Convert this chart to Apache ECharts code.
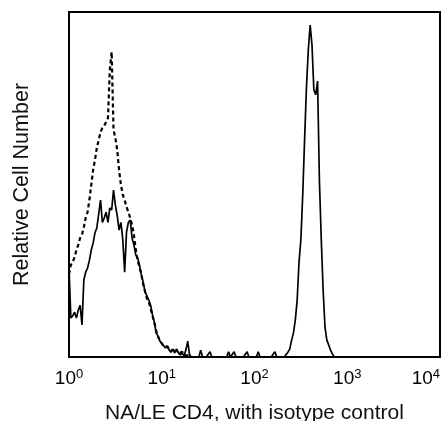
<!DOCTYPE html>
<html>
<head>
<meta charset="utf-8">
<script src="https://cdn.jsdelivr.net/npm/echarts@6/dist/echarts.min.js"></script>
<style>
html,body{margin:0;padding:0;background:#fff;overflow:hidden;}
#chart{width:444px;height:421px;}
</style>
</head>
<body>
<div id="chart"></div>
<script>
// Channel width in decades (x axis is log10 of fluorescence, 10^0 .. 10^4)
const STEP = 0.02;
const xTickExponents = ['0', '1', '2', '3', '4'];
const xAxisTitle = 'NA/LE CD4, with isotype control';
const yAxisTitle = 'Relative Cell Number';

// NA/LE CD4 stained cells (solid line), relative counts per channel
const cd4Counts = [
  25.8, 11.3, 11.9, 13, 11.3, 13.6, 15, 9.3, 22.3, 24.6,
  25.8, 28, 31, 33, 36, 37.4, 41.4, 45.5, 39, 40.3,
  42, 39, 43.2, 42.6, 48.4, 44, 41, 36.8, 39, 34,
  24.6, 36.2, 39, 39.7, 34.5, 32.5, 29.6, 28.7, 26.7, 23.8,
  21.7, 18.8, 17.7, 16.5, 15, 12.2, 10.1, 7, 6.1, 4.6,
  4, 3.5, 2.6, 3.2, 2, 1.4, 2.3, 1.4, 2, 1.2,
  0.6, 1.2, 0.3, 2, 4.6, 0.6, 0, 0, 0, 0,
  0, 2, 0, 0, 0, 0, 1.5, 0, 0, 0,
  0, 0, 0, 0, 0, 0, 1.5, 0, 0, 1.5,
  0, 0, 0, 0, 0, 0, 1.5, 0, 0, 0,
  0, 0, 1.5, 0, 0, 0, 0, 0, 0, 0,
  0, 1.5, 0, 0, 0, 0, 0, 0, 1.4, 2.3,
  4.9, 7, 10.7, 16.5, 27.5, 34, 47, 63, 78, 89,
  96.2, 90.4, 77.4, 76, 80, 51, 34, 19.4, 8.7, 4.9,
  3.5, 2, 0.9, 0, 0, 0, 0, 0, 0, 0,
  0, 0, 0, 0, 0, 0, 0, 0, 0, 0,
  0, 0, 0, 0, 0, 0, 0, 0, 0, 0,
  0, 0, 0, 0, 0, 0, 0, 0, 0, 0,
  0, 0, 0, 0, 0, 0, 0, 0, 0, 0,
  0, 0, 0, 0, 0, 0, 0, 0, 0, 0,
  0
];

// Isotype control (dashed line), relative counts per channel
const isotypeCounts = [
  24, 26.7, 27.5, 29, 31, 32.5, 34.5, 35.4, 37.7, 40.3,
  42, 45.5, 49.9, 54.2, 57.1, 60.6, 62.9, 65.2, 66.4, 67,
  67.5, 69.3, 83.2, 88.4, 65.8, 63.5, 60, 54.2, 49.9, 47,
  45.5, 43.5, 42, 40.3, 38.3, 35.4, 31, 28, 26, 24,
  21, 19, 17, 16, 14, 12, 10, 7.5, 6, 4.6,
  4, 3, 2.5, 3, 2.5, 1.5, 2.6, 1.2, 2.3, 1,
  0.5, 1.5, 0.5, 1, 0.5, 0
];

function toPairs(arr) {
  return arr.map((v, i) => [Math.round(i * STEP * 100) / 100, v]);
}

const FONT = "'Liberation Sans', Arial, Helvetica, sans-serif";
const chart = echarts.init(document.getElementById('chart'), null, {renderer: 'canvas'});
chart.setOption({
  animation: false,
  backgroundColor: '#fff',
  grid: {
    left: 69, right: 4, top: 12, bottom: 64,
    outerBoundsMode: 'none', containLabel: false,
    show: true, borderColor: '#000', borderWidth: 2, backgroundColor: 'transparent'
  },
  xAxis: {
    type: 'value', min: 0, max: 4, interval: 1,
    axisLine: {show: false}, axisTick: {show: false}, splitLine: {show: false},
    axisLabel: {
      margin: 11,
      alignMaxLabel: 'right',
      formatter: v => '{b|10}{s|' + xTickExponents[Math.round(v)] + '}',
      rich: {
        b: {fontSize: 19, fontFamily: FONT, color: '#000'},
        s: {fontSize: 13, fontFamily: FONT, color: '#000', padding: [0, 0, 9, 0]}
      }
    },
    name: xAxisTitle, nameLocation: 'middle', nameGap: 46,
    nameTextStyle: {fontSize: 21, fontFamily: FONT, color: '#111'}
  },
  yAxis: {
    type: 'value', min: 0, max: 100,
    axisLine: {show: false}, axisTick: {show: false}, splitLine: {show: false},
    axisLabel: {show: false},
    name: yAxisTitle, nameLocation: 'middle', nameGap: 36,
    nameTextStyle: {fontSize: 21.5, fontFamily: FONT, color: '#111'}
  },
  series: [
    {
      name: 'CD4', type: 'line', data: toPairs(cd4Counts),
      symbol: 'none', lineStyle: {color: '#000', width: 1.7}, z: 3
    },
    {
      name: 'Isotype', type: 'line', data: toPairs(isotypeCounts),
      symbol: 'none', lineStyle: {color: '#000', width: 2.2, type: [4, 3]}, z: 2
    }
  ]
});
</script>
</body>
</html>
